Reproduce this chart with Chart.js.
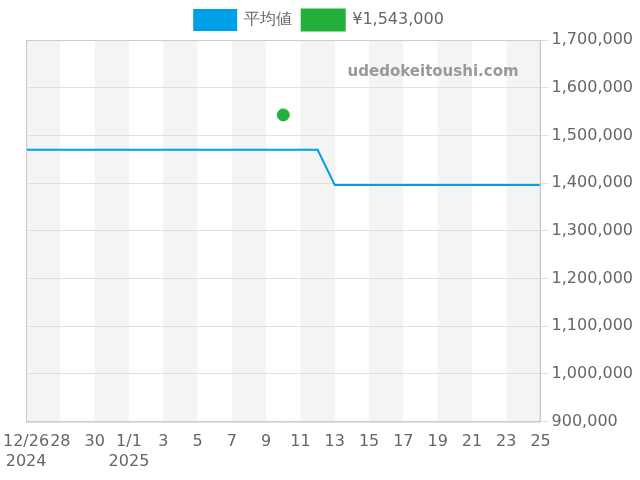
<!DOCTYPE html>
<html><head><meta charset="utf-8">
<script src="https://cdn.jsdelivr.net/npm/chart.js@4"></script>
<style>html,body{margin:0;padding:0;background:#fff}#w{width:640px;height:480px}</style>
</head><body><div id="w"><canvas id="c" width="640" height="480"></canvas></div>
<script>
const tickLabels = [["12/26","2024"],"28","30",["1/1","2025"],"3","5","7","9","11","13","15","17","19","21","23","25"];
const avgDays = [0,1,2,3,4,5,6,7,8,9,10,11,12,13,14,15,16,17,18,19,20,21,22,23,24,25,26,27,28,29,30];
const avgValues = [1470000,1470000,1470000,1470000,1470000,1470000,1470000,1470000,1470000,1470000,1470000,1470000,1470000,1470000,1470000,1470000,1470000,1470000,1396000,1396000,1396000,1396000,1396000,1396000,1396000,1396000,1396000,1396000,1396000,1396000,1396000];
const pointDays = [15];
const pointValues = [1543000];
const bands = {id:'bands',beforeDraw(ch){const {ctx,chartArea:a,scales:{x}}=ch;ctx.save();ctx.fillStyle='#f4f4f4';
 for(let d=0;d<30;d+=4){const l=x.getPixelForValue(d),r=x.getPixelForValue(d+2);ctx.fillRect(l,a.top,r-l,a.bottom-a.top);}
 ctx.restore();},
 afterDatasetsDraw(ch){const {ctx,chartArea:a}=ch;ctx.save();ctx.strokeStyle='#ccc';ctx.lineWidth=1;ctx.strokeRect(a.left+0.5,a.top+0.5,a.right-a.left-1,a.bottom-a.top);
 ctx.fillStyle='#999';ctx.font='bold 15px "DejaVu Sans"';ctx.textAlign='right';ctx.fillText('udedokeitoushi.com',a.right-22,a.top+32);ctx.restore();}};
new Chart(document.getElementById('c'),{type:'line',
 data:{datasets:[
  {label:'平均値',data:avgDays.map((d,i)=>({x:d,y:avgValues[i]})),borderColor:'#00a0e9',backgroundColor:'#00a0e9',borderWidth:2,pointRadius:0,tension:0},
  {label:'¥1,543,000',data:pointDays.map((d,i)=>({x:d,y:pointValues[i]})),borderColor:'#22b03a',backgroundColor:'#22b03a',showLine:false,pointRadius:6,pointHoverRadius:6}
 ]},
 options:{responsive:false,animation:false,layout:{padding:{left:2,right:4,top:0,bottom:6}},
  plugins:{legend:{labels:{boxWidth:42,boxHeight:20,color:'#666',font:{size:16,family:'DejaVu Sans'}}},tooltip:{enabled:false}},
  scales:{
   x:{type:'linear',min:0,max:30,afterBuildTicks(s){s.ticks=tickLabels.map((_,i)=>({value:i*2}));},
      ticks:{autoSkip:false,maxRotation:0,color:'#666',font:{size:16,family:'DejaVu Sans'},callback:(v)=>tickLabels[v/2]},
      grid:{display:false},border:{color:'#ccc'}},
   y:{position:'right',min:900000,max:1700000,ticks:{stepSize:100000,color:'#666',font:{size:16,family:'DejaVu Sans'},callback:v=>v.toLocaleString('en-US')},
      grid:{color:'#e0e0e0'},border:{color:'#ccc'}}
  }},plugins:[bands]});
</script></body></html>
